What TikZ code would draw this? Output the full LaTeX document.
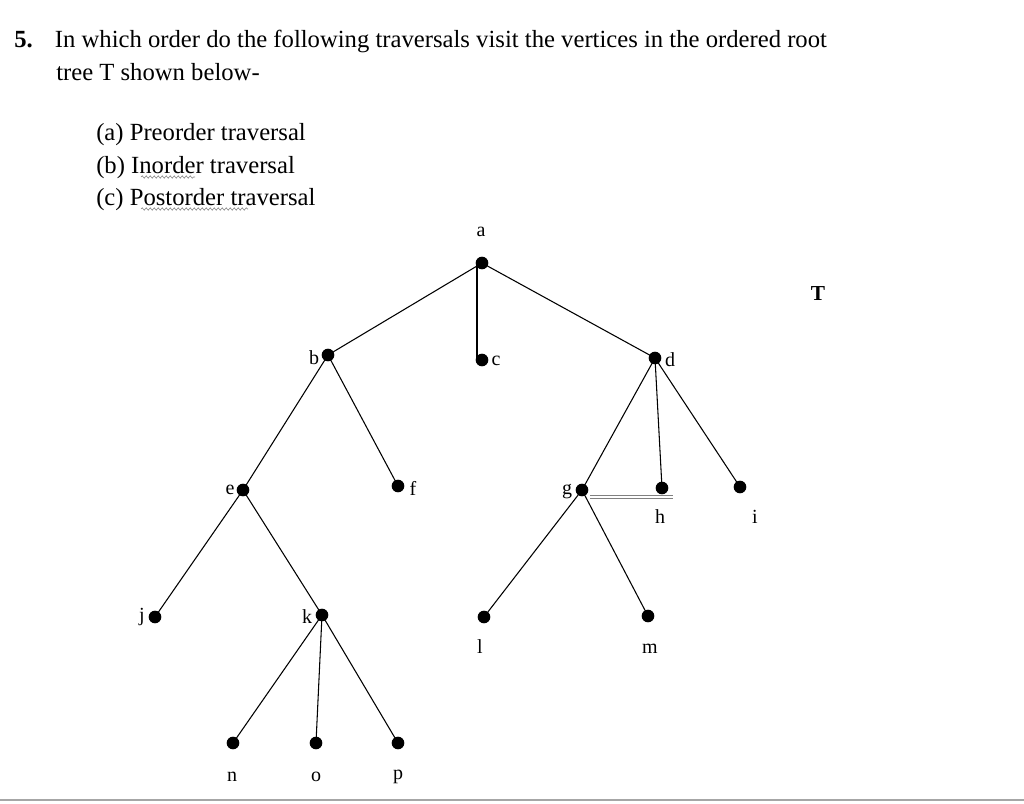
\documentclass[tikz,border=0pt]{standalone}
\usepackage{fontspec}
\setmainfont{Liberation Serif}
\usetikzlibrary{decorations.pathmorphing}

\tikzset{
  vtx/.style={circle,fill=black,inner sep=0pt,minimum size=9.5pt},
  lbl/.style={font=\fontsize{15}{18}\selectfont,inner sep=0pt},
  txt/.style={font=\fontsize{18.5}{22}\selectfont,anchor=base west,inner sep=0pt},
  edge/.style={line width=0.8pt},
  squig/.style={decorate,decoration={snake,amplitude=0.9pt,segment length=3pt},line width=0.4pt,gray}
}

\begin{document}
\begin{tikzpicture}[x=0.75pt,y=-0.75pt]
\useasboundingbox (0,0) rectangle (1024,803);
\draw[gray!70,line width=1.5pt] (0,800) -- (1024,800);

% question text
\node[txt] (q1) at (14,47) {\textbf{5.}\hspace{0.9em}In which order do the following traversals visit the vertices in the ordered root};
\node[txt] (q2) at (56,80) {tree T shown below-};
\node[txt] (ia) at (96,140) {(a) Preorder traversal};
\node[txt] (ib) at (96,173) {(b) Inorder traversal};
\node[txt] (ic) at (96,205) {(c) Postorder traversal};
\draw[squig] (141,177) -- (195,177);
\draw[squig] (141,209) -- (248,209);

% vertices
\node[vtx] (a) at (482,263) {};
\node[vtx] (b) at (328,355) {};
\node[vtx] (c) at (482,360) {};
\node[vtx] (d) at (655,358) {};
\node[vtx] (e) at (243,490) {};
\node[vtx] (f) at (398,486) {};
\node[vtx] (g) at (582,490) {};
\node[vtx] (h) at (662,488) {};
\node[vtx] (i) at (740,487) {};
\node[vtx] (j) at (155,617) {};
\node[vtx] (k) at (322,615) {};
\node[vtx] (l) at (484,617) {};
\node[vtx] (m) at (648,616) {};
\node[vtx] (n) at (233,743) {};
\node[vtx] (o) at (316,743) {};
\node[vtx] (p) at (398,743) {};

% labels
\node[lbl] (la) at (481,232) {a};
\node[lbl] (lb) at (314,358) {b};
\node[lbl] (lc) at (496,361) {c};
\node[lbl] (ld) at (670,360) {d};
\node[lbl] (le) at (230,490) {e};
\node[lbl] (lf) at (413,488) {f};
\node[lbl] (lg) at (567,492) {g};
\node[lbl] (lh) at (660,517) {h};
\node[lbl] (li) at (755,517) {i};
\node[lbl] (lj) at (142,617) {j};
\node[lbl] (lk) at (307,617) {k};
\node[lbl] (ll) at (480,647) {l};
\node[lbl] (lm) at (650,649) {m};
\node[lbl] (ln) at (232,777) {n};
\node[lbl] (lo) at (316,777) {o};
\node[lbl] (lp) at (398,777) {p};
\node[lbl,font=\fontsize{16}{18}\selectfont\bfseries] (tt) at (818,294) {T};

% edges
\draw[edge] (a.center) -- (b.center);
\draw[edge] (a.center) -- (477,263) -- (477,360) -- (c.center);
\draw[edge] (a.center) -- (d.center);
\draw[edge] (b.center) -- (e.center);
\draw[edge] (b.center) -- (f.center);
\draw[edge] (e.center) -- (j.center);
\draw[edge] (e.center) -- (k.center);
\draw[edge] (k.center) -- (n.center);
\draw[edge] (k.center) -- (o.center);
\draw[edge] (k.center) -- (p.center);
\draw[edge] (d.center) -- (g.center);
\draw[edge] (d.center) -- (h.center);
\draw[edge] (d.center) -- (i.center);
\draw[edge] (g.center) -- (l.center);
\draw[edge] (g.center) -- (m.center);
\draw[gray,line width=0.6pt,double,double distance=1.5pt] (590,497) -- (673,497);
\end{tikzpicture}
\end{document}
